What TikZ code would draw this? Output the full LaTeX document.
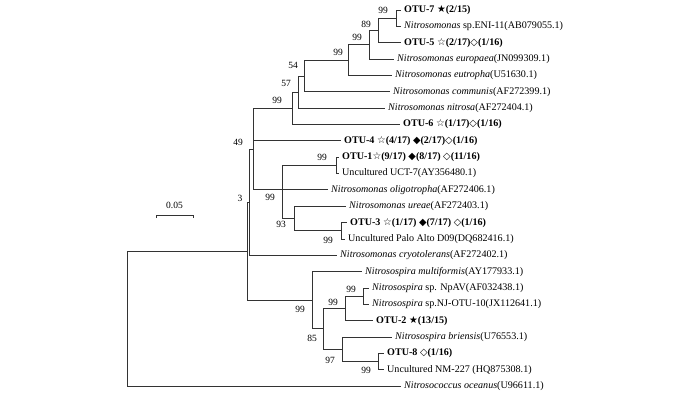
\documentclass[tikz,border=0pt]{standalone}
\usepackage{fontspec}
\setmainfont{Liberation Serif}
\newfontfamily\symf[Scale=0.97]{DejaVu Sans}
\usepackage{tikz}
\newcommand{\fullstar}{{\symf ★}}
\newcommand{\openstar}{{\symf ☆}}
\newcommand{\fulldia}{{\symf ◆}}
\newcommand{\opendia}{{\symf ◇}}

\begin{document}
\begin{tikzpicture}[x=1pt, y=-1pt,
    branch/.style={draw=black!80, line width=0.7pt},
    leaf/.style={anchor=west, inner xsep=3pt, inner ysep=0pt, font=\fontsize{10.1}{12}\selectfont},
    otu/.style={leaf, font=\fontsize{10.1}{12}\selectfont\bfseries},
    boot/.style={inner sep=0pt, font=\fontsize{9.5}{11}\selectfont}]
    \useasboundingbox (0,0) rectangle (700,395);

    % inner nodes of the tree
    \coordinate (A) at (396, 18.18);
    \coordinate (B) at (378, 30.44);
    \coordinate (C) at (369, 44.74);
    \coordinate (D) at (348, 60.07);
    \coordinate (E) at (304, 75.91);
    \coordinate (F) at (298, 92.0);
    \coordinate (G) at (292, 108.23);
    \coordinate (U) at (336, 165.33);
    \coordinate (T) at (341, 230.73);
    \coordinate (V) at (294, 218.46);
    \coordinate (I) at (282, 189.85);
    \coordinate (J) at (253, 149.04);
    \coordinate (K) at (249.5, 202.15);
    \coordinate (Q) at (363, 296.13);
    \coordinate (O) at (345, 308.39);
    \coordinate (S) at (378, 361.53);
    \coordinate (P) at (342, 349.26);
    \coordinate (N) at (323, 328.83);
    \coordinate (M) at (312, 300.21);
    \coordinate (L) at (247.5, 251.18);
    \coordinate (R) at (127, 318.6);

    % leaves
    \node[otu] (otu7) at (401, 10.0) {OTU-7 \fullstar(2/15)};
    \node[leaf] (eni11) at (401, 26.35) {\textit{Nitrosomonas} sp.ENI-11(AB079055.1)};
    \node[otu] (otu5) at (401, 42.7) {OTU-5 \openstar(2/17)\opendia(1/16)};
    \node[leaf] (europaea) at (394, 59.05) {\textit{Nitrosomonas europaea}(JN099309.1)};
    \node[leaf] (eutropha) at (392, 75.4) {\textit{Nitrosomonas eutropha}(U51630.1)};
    \node[leaf] (communis) at (390, 91.75) {\textit{Nitrosomonas communis}(AF272399.1)};
    \node[leaf] (nitrosa) at (385, 108.1) {\textit{Nitrosomonas nitrosa}(AF272404.1)};
    \node[otu] (otu6) at (400, 124.45) {OTU-6 \openstar(1/17)\opendia(1/16)};
    \node[otu] (otu4) at (341, 140.8) {OTU-4 \openstar(4/17) \fulldia(2/17)\opendia(1/16)};
    \node[otu] (otu1) at (339, 157.15) {OTU-1\openstar(9/17) \fulldia(8/17) \opendia(11/16)};
    \node[leaf] (uct7) at (339, 173.5) {Uncultured UCT-7(AY356480.1)};
    \node[leaf] (oligotropha) at (328, 189.85) {\textit{Nitrosomonas oligotropha}(AF272406.1)};
    \node[leaf] (ureae) at (346, 206.2) {\textit{Nitrosomonas ureae}(AF272403.1)};
    \node[otu] (otu3) at (347, 222.55) {OTU-3 \openstar(1/17) \fulldia(7/17) \opendia(1/16)};
    \node[leaf] (paloalto) at (345, 238.9) {Uncultured Palo Alto D09(DQ682416.1)};
    \node[leaf] (cryotolerans) at (337, 255.25) {\textit{Nitrosomonas cryotolerans}(AF272402.1)};
    \node[leaf] (multiformis) at (362, 271.6) {\textit{Nitrosospira multiformis}(AY177933.1)};
    \node[leaf] (npav) at (369, 287.95) {\textit{Nitrosospira} sp. NpAV(AF032438.1)};
    \node[leaf] (njotu) at (369, 304.3) {\textit{Nitrosospira} sp.NJ-OTU-10(JX112641.1)};
    \node[otu] (otu2) at (373, 320.65) {OTU-2 \fullstar(13/15)};
    \node[leaf] (briensis) at (392, 337.0) {\textit{Nitrosospira briensis}(U76553.1)};
    \node[otu] (otu8) at (384, 353.35) {OTU-8 \opendia(1/16)};
    \node[leaf] (nm227) at (384, 369.7) {Uncultured NM-227 (HQ875308.1)};
    \node[leaf] (oceanus) at (401, 386.05) {\textit{Nitrosococcus oceanus}(U96611.1)};

    % branches
    \draw[branch] (A) |- (otu7.west);
    \draw[branch] (A) |- (eni11.west);
    \draw[branch] (B) |- (A);
    \draw[branch] (B) |- (otu5.west);
    \draw[branch] (C) |- (B);
    \draw[branch] (C) |- (europaea.west);
    \draw[branch] (D) |- (C);
    \draw[branch] (D) |- (eutropha.west);
    \draw[branch] (E) |- (D);
    \draw[branch] (E) |- (communis.west);
    \draw[branch] (F) |- (E);
    \draw[branch] (F) |- (nitrosa.west);
    \draw[branch] (G) |- (F);
    \draw[branch] (G) |- (otu6.west);
    \draw[branch] (U) |- (otu1.west);
    \draw[branch] (U) |- (uct7.west);
    \draw[branch] (T) |- (otu3.west);
    \draw[branch] (T) |- (paloalto.west);
    \draw[branch] (V) |- (ureae.west);
    \draw[branch] (V) |- (T);
    \draw[branch] (I) |- (U);
    \draw[branch] (I) |- (oligotropha.west);
    \draw[branch] (I) |- (V);
    \draw[branch] (J) |- (G);
    \draw[branch] (J) |- (otu4.west);
    \draw[branch] (J) |- (I);
    \draw[branch] (K) |- (J);
    \draw[branch] (K) |- (cryotolerans.west);
    \draw[branch] (Q) |- (npav.west);
    \draw[branch] (Q) |- (njotu.west);
    \draw[branch] (O) |- (Q);
    \draw[branch] (O) |- (otu2.west);
    \draw[branch] (S) |- (otu8.west);
    \draw[branch] (S) |- (nm227.west);
    \draw[branch] (P) |- (briensis.west);
    \draw[branch] (P) |- (S);
    \draw[branch] (N) |- (O);
    \draw[branch] (N) |- (P);
    \draw[branch] (M) |- (multiformis.west);
    \draw[branch] (M) |- (N);
    \draw[branch] (L) |- (K);
    \draw[branch] (L) |- (M);
    \draw[branch] (R) |- (L);
    \draw[branch] (R) |- (oceanus.west);

    % bootstrap values
    \node[boot] (bA) at (383, 10) {99};
    \node[boot] (bB) at (366, 24) {89};
    \node[boot] (bC) at (357, 37) {99};
    \node[boot] (bD) at (338, 52) {99};
    \node[boot] (bE) at (293, 65) {54};
    \node[boot] (bF) at (286, 83) {57};
    \node[boot] (bG) at (277, 100) {99};
    \node[boot] (bJ) at (238, 142) {49};
    \node[boot] (bU) at (322, 157) {99};
    \node[boot] (bI) at (270, 197) {99};
    \node[boot] (bV) at (281, 224) {93};
    \node[boot] (bT) at (328, 240) {99};
    \node[boot] (bK) at (240, 198) {3};
    \node[boot] (bQ) at (351, 289) {99};
    \node[boot] (bO) at (333, 302) {99};
    \node[boot] (bM) at (300, 309) {99};
    \node[boot] (bN) at (312, 338) {85};
    \node[boot] (bP) at (330, 360) {97};
    \node[boot] (bS) at (366, 370) {99};

    % scale bar
    \coordinate (sbl) at (156, 215);
    \coordinate (sbr) at (193, 215);
    \node[boot] (sblabel) at (174.5, 205) {0.05};
    \draw[branch] ([yshift=-3pt]sbl) -- (sbl) -- (sbr) -- ([yshift=-3pt]sbr);
\end{tikzpicture}
\end{document}
